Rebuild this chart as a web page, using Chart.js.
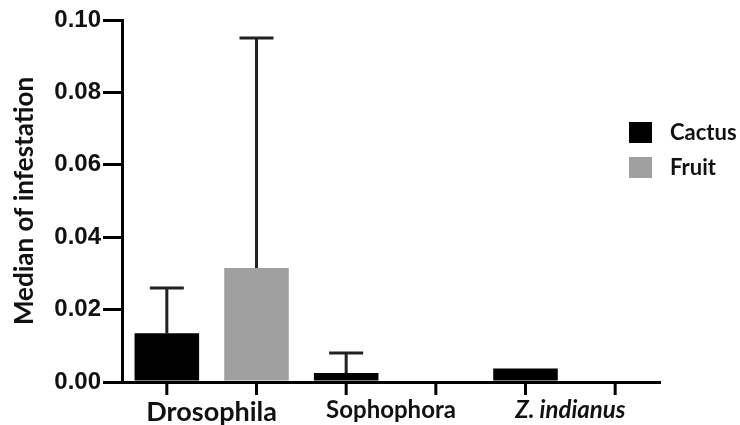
<!DOCTYPE html>
<html>
<head>
<meta charset="utf-8">
<script src="https://cdn.jsdelivr.net/npm/chart.js@4/dist/chart.umd.min.js"></script>
<style>
  html, body { margin: 0; padding: 0; background: #fff; }
</style>
</head>
<body>
<canvas id="barChart" width="740" height="425"></canvas>
<script>
const categories = ['Drosophila', 'Sophophora', 'Z. indianus']
const cactusValues = [0.0135, 0.0025, 0.0037]
const fruitValues = [0.0315, 0, 0]
const cactusErrors = [0.026, 0.008, null]
const fruitErrors = [0.095, null, null]
const yTicks = [0, 0.02, 0.04, 0.06, 0.08, 0.10]

const CHART = document.getElementById('barChart')

// upper error bars, drawn behind the bars
const errorBars = {
    id: 'errorBars',
    beforeDatasetsDraw(chart) {
        const ctx = chart.ctx
        const y = chart.scales.y
        chart.data.datasets.forEach((ds, i) => {
            const meta = chart.getDatasetMeta(i)
            meta.data.forEach((bar, j) => {
                const e = ds.errors[j]
                if (e == null) return
                const top = y.getPixelForValue(e)
                ctx.save()
                ctx.strokeStyle = '#222'
                ctx.lineWidth = 3
                ctx.beginPath()
                ctx.moveTo(bar.x, bar.y)
                ctx.lineTo(bar.x, top)
                ctx.moveTo(bar.x - 17, top)
                ctx.lineTo(bar.x + 17, top)
                ctx.stroke()
                ctx.restore()
            })
        })
    }
}

// tick marks under every bar + legend on the right
const extras = {
    id: 'extras',
    afterDraw(chart) {
        const ctx = chart.ctx
        const bottom = chart.chartArea.bottom
        ctx.save()
        ctx.strokeStyle = '#000'
        ctx.lineWidth = 3
        chart.data.datasets.forEach((ds, i) => {
            chart.getDatasetMeta(i).data.forEach(bar => {
                ctx.beginPath()
                ctx.moveTo(bar.x, bottom)
                ctx.lineTo(bar.x, bottom + 13)
                ctx.stroke()
            })
        })
        ctx.font = 'bold 22px Lato'
        ctx.textBaseline = 'middle'
        chart.data.datasets.forEach((ds, i) => {
            const top = 122 + i * 35
            ctx.fillStyle = ds.backgroundColor
            ctx.fillRect(629, top, 23, 21)
            ctx.fillStyle = '#111'
            ctx.fillText(ds.label, 670, top + 11)
        })
        ctx.restore()
    }
}

let barChart = new Chart(CHART, {
    type: 'bar',
    data: {
        labels: categories,
        datasets: [
            { label: 'Cactus', data: cactusValues, errors: cactusErrors, backgroundColor: '#000000' },
            { label: 'Fruit', data: fruitValues, errors: fruitErrors, backgroundColor: '#a0a0a0' }
        ]
    },
    options: {
        responsive: false,
        animation: false,
        categoryPercentage: 1,
        barPercentage: 0.72,
        layout: { padding: { top: 20, right: 80, left: 0, bottom: 0 } },
        plugins: { legend: { display: false }, tooltip: { enabled: false } },
        scales: {
            x: {
                grid: { display: false },
                border: { display: true, color: '#000', width: 3 },
                afterFit: s => { s.height = 43 },
                ticks: {
                    color: '#111',
                    padding: 6,
                    maxRotation: 0,
                    font: c => {
                        if (c.index === 0) return { family: 'Lato', size: 27, weight: 'bold' }
                        if (c.index === 2) return { family: 'Lato', size: 24, weight: 'bold', style: 'italic' }
                        return { family: 'Lato', size: 24, weight: 'bold' }
                    }
                }
            },
            y: {
                min: 0,
                max: 0.1,
                afterFit: s => { s.width = 122 },
                afterBuildTicks: s => { s.ticks = yTicks.map(v => ({ value: v })) },
                border: { display: true, color: '#000', width: 3 },
                grid: { drawOnChartArea: false, color: '#000', tickLength: 19, lineWidth: 3 },
                ticks: {
                    color: '#111',
                    padding: 2,
                    font: { family: 'Liberation Sans', size: 24, weight: 'bold' },
                    callback: v => v.toFixed(2)
                },
                title: {
                    display: true,
                    text: 'Median of infestation',
                    color: '#111',
                    font: { family: 'Lato', size: 26, weight: 'bold' },
                    padding: { top: 9 }
                }
            }
        }
    },
    plugins: [errorBars, extras]
})
</script>
</body>
</html>
